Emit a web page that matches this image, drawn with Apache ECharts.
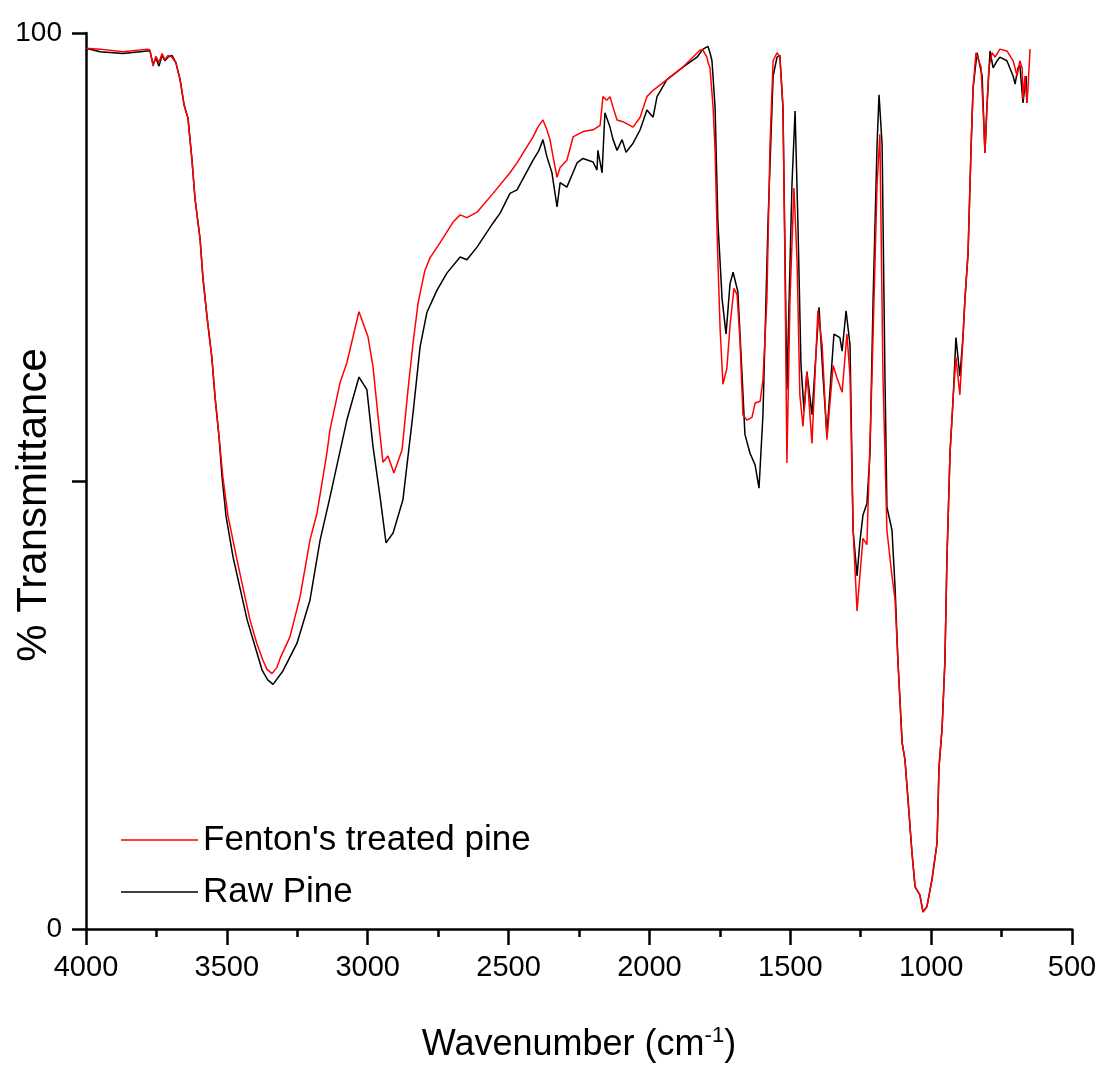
<!DOCTYPE html>
<html>
<head>
<meta charset="utf-8">
<title>FTIR pine</title>
<script src="https://cdn.jsdelivr.net/npm/echarts@6/dist/echarts.min.js"></script>
<style>
  html, body { margin: 0; padding: 0; background: #fff; }
  #main { width: 1098px; height: 1068px; }
</style>
</head>
<body>
<div id="main"></div>
<script>
// Fenton's treated pine
const fentonWn = [4000, 3950, 3869, 3783, 3773, 3762, 3752, 3741, 3730, 3720, 3709, 3695, 3681, 3666, 3652, 3638,
  3624, 3613, 3595, 3585, 3570, 3553, 3542, 3528, 3514, 3496, 3464, 3418, 3393, 3372, 3358, 3340, 3322, 3311,
  3276, 3240, 3205, 3180, 3145, 3134, 3098, 3074, 3031, 2999, 2981, 2963, 2946, 2928, 2907, 2878, 2857, 2839,
  2821, 2797, 2779, 2743, 2697, 2672, 2648, 2612, 2555, 2495, 2470, 2413, 2396, 2378, 2364, 2353, 2342, 2328,
  2317, 2293, 2271, 2236, 2200, 2175, 2165, 2151, 2140, 2129, 2115, 2094, 2058, 2033, 2009, 1987, 1938, 1881,
  1820, 1810, 1796, 1792, 1785, 1774, 1767, 1760, 1757, 1749, 1739, 1725, 1714, 1700, 1689, 1679, 1668, 1654,
  1636, 1625, 1607, 1597, 1583, 1572, 1561, 1547, 1537, 1526, 1519, 1512, 1501, 1487, 1476, 1466, 1455, 1441,
  1423, 1402, 1387, 1370, 1348, 1334, 1316, 1299, 1288, 1277, 1263, 1253, 1242, 1228, 1210, 1192, 1182, 1171,
  1157, 1139, 1128, 1118, 1103, 1093, 1082, 1068, 1057, 1040, 1029, 1015, 997, 979, 972, 961, 951, 944, 933,
  922, 912, 898, 887, 880, 869, 858, 851, 841, 834, 823, 816, 809, 802, 795, 784, 773, 756, 731, 709, 695, 685,
  677, 674, 667, 660, 656, 649];
const fentonT = [98.3, 98.2, 97.9, 98.2, 98.1, 96.3, 97.4, 96.7, 97.7, 97.0, 97.5, 97.3, 96.7, 94.8, 92.0, 90.5,
  85.9, 81.5, 77.0, 72.7, 68.2, 63.7, 59.4, 55.0, 50.4, 46.1, 41.2, 34.5, 31.8, 30.0, 29.0, 28.5, 29.2, 30.2,
  32.6, 37.1, 43.4, 46.4, 53.1, 55.7, 61.0, 63.2, 68.9, 66.1, 62.7, 57.1, 52.1, 52.8, 50.9, 53.5, 60.2, 65.4,
  69.9, 73.5, 74.9, 76.6, 78.9, 79.7, 79.4, 80.0, 82.1, 84.4, 85.5, 88.4, 89.5, 90.3, 89.2, 88.1, 86.2, 83.9,
  85.0, 85.8, 88.4, 89.0, 89.2, 89.7, 92.9, 92.5, 92.9, 91.7, 90.3, 90.1, 89.5, 90.6, 92.9, 93.6, 94.8, 96.2,
  98.1, 98.1, 97.3, 96.7, 96.1, 91.7, 86.9, 78.0, 74.6, 66.9, 60.8, 62.6, 67.3, 71.5, 70.8, 66.0, 57.4, 56.8,
  57.1, 58.7, 58.9, 61.3, 70.3, 87.5, 96.9, 97.8, 97.3, 91.7, 74.6, 52.0, 70.3, 82.7, 74.6, 59.6, 56.1, 62.2,
  54.2, 69.0, 65.2, 54.6, 62.9, 61.5, 59.9, 66.4, 61.7, 44.5, 35.5, 39.4, 43.6, 42.9, 61.7, 83.1, 88.7, 61.7,
  44.5, 39.4, 36.7, 30.0, 20.8, 18.9, 14.4, 8.5, 4.7, 3.8, 1.9, 2.5, 5.5, 9.6, 18.1, 22.5, 30.0, 41.2, 53.1,
  59.2, 63.8, 59.6, 66.0, 70.3, 75.4, 87.5, 93.9, 97.8, 97.8, 96.2, 91.7, 86.6, 91.7, 96.1, 97.8, 97.3, 98.2,
  98.0, 96.9, 95.2, 96.9, 96.1, 92.6, 95.2, 92.2, 93.9, 98.2];

// Raw pine
const rawWn = [4000, 3950, 3869, 3783, 3773, 3762, 3752, 3741, 3730, 3720, 3709, 3695, 3681, 3666, 3652, 3638,
  3624, 3613, 3595, 3585, 3570, 3553, 3542, 3528, 3517, 3503, 3478, 3428, 3375, 3355, 3336, 3301, 3251, 3205,
  3169, 3134, 3074, 3031, 3003, 2981, 2956, 2935, 2910, 2875, 2839, 2814, 2790, 2754, 2719, 2672, 2648, 2612,
  2555, 2530, 2495, 2470, 2413, 2392, 2378, 2364, 2346, 2328, 2317, 2293, 2257, 2236, 2200, 2186, 2183, 2168,
  2158, 2140, 2129, 2115, 2097, 2083, 2058, 2033, 2009, 1987, 1973, 1938, 1881, 1831, 1810, 1792, 1785, 1778,
  1767, 1757, 1742, 1728, 1714, 1703, 1686, 1671, 1661, 1643, 1625, 1611, 1597, 1579, 1561, 1547, 1537, 1526,
  1512, 1494, 1483, 1473, 1462, 1451, 1441, 1423, 1398, 1384, 1370, 1345, 1324, 1316, 1302, 1288, 1277, 1263,
  1253, 1242, 1228, 1217, 1206, 1192, 1185, 1174, 1164, 1157, 1139, 1128, 1118, 1103, 1093, 1082, 1068, 1057,
  1040, 1029, 1015, 997, 979, 972, 961, 951, 944, 933, 922, 912, 898, 887, 880, 869, 858, 851, 837, 819, 809,
  802, 791, 780, 766, 756, 731, 709, 702, 692, 685, 674, 663, 660];
const rawT = [98.3, 97.9, 97.7, 98.0, 98.0, 96.5, 97.2, 96.3, 97.5, 96.9, 97.3, 97.5, 96.7, 94.8, 92.0, 90.5,
  85.9, 81.5, 77.0, 72.7, 68.2, 63.7, 59.4, 55.0, 50.4, 46.1, 41.5, 34.5, 28.9, 27.8, 27.3, 28.8, 31.9, 36.7,
  43.4, 48.2, 56.8, 61.6, 60.2, 53.8, 48.2, 43.1, 44.2, 47.9, 57.6, 65.0, 68.8, 71.3, 73.2, 75.0, 74.7, 76.1,
  78.8, 79.9, 82.1, 82.5, 85.8, 86.9, 88.1, 86.2, 84.4, 80.6, 83.3, 82.8, 85.5, 86.0, 85.6, 84.7, 86.9, 84.4,
  91.1, 89.5, 88.1, 86.9, 88.1, 86.7, 87.7, 89.2, 91.4, 90.6, 92.9, 94.8, 96.2, 97.3, 98.2, 98.5, 97.8, 96.9,
  91.7, 78.9, 70.3, 66.4, 72.0, 73.3, 71.1, 61.7, 55.2, 53.1, 51.8, 49.2, 57.4, 78.9, 95.2, 97.3, 97.5, 91.7,
  60.2, 83.1, 91.3, 78.9, 62.9, 57.8, 62.2, 57.4, 69.4, 61.7, 55.2, 66.4, 66.0, 64.5, 69.0, 65.2, 44.5, 39.4,
  43.2, 46.2, 47.5, 53.1, 70.3, 87.5, 93.1, 87.5, 61.7, 47.1, 44.5, 38.1, 30.0, 20.8, 18.9, 14.4, 8.5, 4.7,
  3.8, 1.9, 2.5, 5.5, 9.6, 18.1, 22.5, 30.0, 41.2, 53.1, 59.2, 66.0, 61.7, 66.0, 70.3, 75.4, 87.5, 93.9, 97.8,
  95.2, 86.6, 91.7, 98.0, 96.1, 96.9, 97.3, 96.9, 95.2, 94.3, 96.1, 96.4, 92.2, 95.2, 92.2];

const xTicks = [500, 1000, 1500, 2000, 2500, 3000, 3500, 4000];
const yLabelled = [0, 100];

const font = "'Liberation Sans', Arial, sans-serif";

function pairs(xs, ys) {
  return xs.map((x, i) => [x, ys[i]]);
}

const chart = echarts.init(document.getElementById('main'));

const option = {
  backgroundColor: '#fff',
  animation: false,
  grid: { left: 86, right: 26, top: 33, bottom: 139, containLabel: false, outerBoundsMode: 'none' },
  legend: {
    orient: 'vertical',
    left: 116,
    top: 815,
    icon: 'rect',
    itemWidth: 77,
    itemHeight: 1.5,
    itemGap: 12,
    textStyle: { fontFamily: font, fontSize: 35, color: '#000', lineHeight: 40 },
    data: ["Fenton's treated pine", 'Raw Pine']
  },
  xAxis: {
    type: 'value',
    min: xTicks[0],
    max: xTicks[xTicks.length - 1],
    interval: 500,
    inverse: true,
    name: 'Wavenumber (cm{sup|-1})',
    nameLocation: 'middle',
    nameGap: 96,
    nameMoveOverlap: false,
    nameTextStyle: {
      fontFamily: font, fontSize: 36, color: '#000', lineHeight: 40,
      rich: { sup: { fontFamily: font, fontSize: 22, verticalAlign: 'top', lineHeight: 40, color: '#000' } }
    },
    axisLine: { lineStyle: { color: '#000', width: 2.5 } },
    axisTick: { length: 16, lineStyle: { color: '#000', width: 2.5 } },
    minorTick: { show: true, splitNumber: 2, length: 8, lineStyle: { color: '#000', width: 2.5 } },
    splitLine: { show: false },
    axisLabel: { fontFamily: font, fontSize: 29, color: '#000', margin: 24, formatter: v => String(v) }
  },
  yAxis: {
    type: 'value',
    min: 0,
    max: 100,
    interval: 50,
    name: '% Transmittance',
    nameLocation: 'middle',
    nameGap: 31,
    nameMoveOverlap: false,
    nameTextStyle: { fontFamily: font, fontSize: 42, color: '#000', padding: [0, 48, 0, 0] },
    axisLine: { show: true, lineStyle: { color: '#000', width: 2.5 } },
    axisTick: { show: true, length: 14, lineStyle: { color: '#000', width: 2.5 } },
    splitLine: { show: false },
    axisLabel: {
      fontFamily: font, fontSize: 28, color: '#000', margin: 24,
      formatter: v => (yLabelled.indexOf(v) >= 0 ? String(v) : '')
    }
  },
  series: [
    {
      name: "Fenton's treated pine",
      type: 'line',
      data: pairs(fentonWn, fentonT),
      symbol: 'none',
      z: 3,
      lineStyle: { color: '#ff0000', width: 1.5 },
      itemStyle: { color: '#ff0000' }
    },
    {
      name: 'Raw Pine',
      type: 'line',
      data: pairs(rawWn, rawT),
      symbol: 'none',
      z: 2,
      lineStyle: { color: '#000000', width: 1.5 },
      itemStyle: { color: '#000000' }
    }
  ]
};

chart.setOption(option);
</script>
</body>
</html>
